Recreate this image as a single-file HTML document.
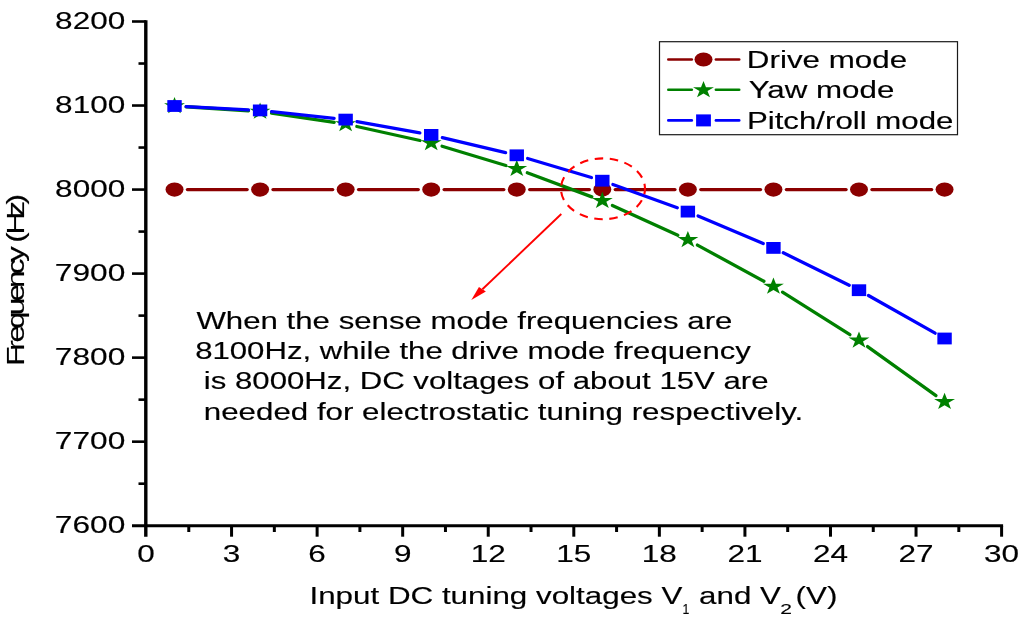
<!DOCTYPE html>
<html lang="en"><head><meta charset="utf-8"><title>Frequency vs DC tuning voltage</title>
<style>html,body{margin:0;padding:0;background:#fff;overflow:hidden}svg{display:block;will-change:transform}text{font-family:"Liberation Sans",sans-serif;fill:#000}</style>
</head><body>
<svg width="1024" height="629" viewBox="0 0 1024 629">
<rect width="1024" height="629" fill="#fff"/>
<g stroke="#000" stroke-width="3" fill="none" stroke-linecap="butt">
<line x1="145.8" y1="20.2" x2="145.8" y2="536.7" stroke-width="3.4"/>
<line x1="132.0" y1="525.7" x2="1003.1" y2="525.7"/>
<line x1="138.5" y1="483.68" x2="146.0" y2="483.68" stroke-width="2.6"/>
<line x1="132.0" y1="441.67" x2="146.0" y2="441.67" stroke-width="2.6"/>
<line x1="138.5" y1="399.65" x2="146.0" y2="399.65" stroke-width="2.6"/>
<line x1="132.0" y1="357.63" x2="146.0" y2="357.63" stroke-width="2.6"/>
<line x1="138.5" y1="315.62" x2="146.0" y2="315.62" stroke-width="2.6"/>
<line x1="132.0" y1="273.60" x2="146.0" y2="273.60" stroke-width="2.6"/>
<line x1="138.5" y1="231.58" x2="146.0" y2="231.58" stroke-width="2.6"/>
<line x1="132.0" y1="189.57" x2="146.0" y2="189.57" stroke-width="2.6"/>
<line x1="138.5" y1="147.55" x2="146.0" y2="147.55" stroke-width="2.6"/>
<line x1="132.0" y1="105.53" x2="146.0" y2="105.53" stroke-width="2.6"/>
<line x1="138.5" y1="63.52" x2="146.0" y2="63.52" stroke-width="2.6"/>
<line x1="132.0" y1="21.50" x2="146.0" y2="21.50" stroke-width="2.6"/>
<line x1="188.78" y1="525.7" x2="188.78" y2="532.0"/>
<line x1="231.56" y1="525.7" x2="231.56" y2="536.7"/>
<line x1="274.34" y1="525.7" x2="274.34" y2="532.0"/>
<line x1="317.12" y1="525.7" x2="317.12" y2="536.7"/>
<line x1="359.90" y1="525.7" x2="359.90" y2="532.0"/>
<line x1="402.68" y1="525.7" x2="402.68" y2="536.7"/>
<line x1="445.46" y1="525.7" x2="445.46" y2="532.0"/>
<line x1="488.24" y1="525.7" x2="488.24" y2="536.7"/>
<line x1="531.02" y1="525.7" x2="531.02" y2="532.0"/>
<line x1="573.80" y1="525.7" x2="573.80" y2="536.7"/>
<line x1="616.58" y1="525.7" x2="616.58" y2="532.0"/>
<line x1="659.36" y1="525.7" x2="659.36" y2="536.7"/>
<line x1="702.14" y1="525.7" x2="702.14" y2="532.0"/>
<line x1="744.92" y1="525.7" x2="744.92" y2="536.7"/>
<line x1="787.70" y1="525.7" x2="787.70" y2="532.0"/>
<line x1="830.48" y1="525.7" x2="830.48" y2="536.7"/>
<line x1="873.26" y1="525.7" x2="873.26" y2="532.0"/>
<line x1="916.04" y1="525.7" x2="916.04" y2="536.7"/>
<line x1="958.82" y1="525.7" x2="958.82" y2="532.0"/>
<line x1="1001.60" y1="525.7" x2="1001.60" y2="536.7"/>
</g>
<text x="54.82" y="532.70" font-size="24.6" textLength="70.43" lengthAdjust="spacingAndGlyphs" stroke="#000" stroke-width="0.15">7600</text>
<text x="54.82" y="448.67" font-size="24.6" textLength="70.43" lengthAdjust="spacingAndGlyphs" stroke="#000" stroke-width="0.15">7700</text>
<text x="54.82" y="364.63" font-size="24.6" textLength="70.43" lengthAdjust="spacingAndGlyphs" stroke="#000" stroke-width="0.15">7800</text>
<text x="54.82" y="280.60" font-size="24.6" textLength="70.43" lengthAdjust="spacingAndGlyphs" stroke="#000" stroke-width="0.15">7900</text>
<text x="55.14" y="196.57" font-size="24.6" textLength="70.10" lengthAdjust="spacingAndGlyphs" stroke="#000" stroke-width="0.15">8000</text>
<text x="55.14" y="112.53" font-size="24.6" textLength="70.10" lengthAdjust="spacingAndGlyphs" stroke="#000" stroke-width="0.15">8100</text>
<text x="55.14" y="28.50" font-size="24.6" textLength="70.10" lengthAdjust="spacingAndGlyphs" stroke="#000" stroke-width="0.15">8200</text>
<text x="137.24" y="561.90" font-size="24.6" textLength="17.52" lengthAdjust="spacingAndGlyphs" stroke="#000" stroke-width="0.15">0</text>
<text x="222.80" y="561.90" font-size="24.6" textLength="17.52" lengthAdjust="spacingAndGlyphs" stroke="#000" stroke-width="0.15">3</text>
<text x="308.36" y="561.90" font-size="24.6" textLength="17.52" lengthAdjust="spacingAndGlyphs" stroke="#000" stroke-width="0.15">6</text>
<text x="393.92" y="561.90" font-size="24.6" textLength="17.52" lengthAdjust="spacingAndGlyphs" stroke="#000" stroke-width="0.15">9</text>
<text x="470.72" y="561.90" font-size="24.6" textLength="35.05" lengthAdjust="spacingAndGlyphs" stroke="#000" stroke-width="0.15">12</text>
<text x="556.28" y="561.90" font-size="24.6" textLength="35.05" lengthAdjust="spacingAndGlyphs" stroke="#000" stroke-width="0.15">15</text>
<text x="641.84" y="561.90" font-size="24.6" textLength="35.05" lengthAdjust="spacingAndGlyphs" stroke="#000" stroke-width="0.15">18</text>
<text x="727.40" y="561.90" font-size="24.6" textLength="35.05" lengthAdjust="spacingAndGlyphs" stroke="#000" stroke-width="0.15">21</text>
<text x="812.96" y="561.90" font-size="24.6" textLength="35.05" lengthAdjust="spacingAndGlyphs" stroke="#000" stroke-width="0.15">24</text>
<text x="898.52" y="561.90" font-size="24.6" textLength="35.05" lengthAdjust="spacingAndGlyphs" stroke="#000" stroke-width="0.15">27</text>
<text x="984.08" y="561.90" font-size="24.6" textLength="35.05" lengthAdjust="spacingAndGlyphs" stroke="#000" stroke-width="0.15">30</text>
<text x="309.48" y="604.20" font-size="24.6" textLength="372.93" lengthAdjust="spacingAndGlyphs" stroke="#000" stroke-width="0.15">Input DC tuning voltages V</text>
<text x="682.54" y="613.80" font-size="14.6" textLength="6.83" lengthAdjust="spacingAndGlyphs" stroke="#000" stroke-width="0.15">1</text>
<text x="699.05" y="604.20" font-size="24.6" textLength="81.86" lengthAdjust="spacingAndGlyphs" stroke="#000" stroke-width="0.15">and V</text>
<text x="780.25" y="613.80" font-size="14.6" textLength="11.73" lengthAdjust="spacingAndGlyphs" stroke="#000" stroke-width="0.15">2</text>
<text x="795.52" y="604.20" font-size="24.6" textLength="41.85" lengthAdjust="spacingAndGlyphs" stroke="#000" stroke-width="0.15">(V)</text>
<text transform="translate(23.9,365.8) rotate(-90) scale(1.28,1)" font-size="24.6" x="0.00 11.74 18.14 28.83 39.51 50.20 60.88 71.57 81.18 90.79 96.13 102.53 116.41 126.02" y="0" stroke="#000" stroke-width="0.15">Frequency (Hz)</text>
<g stroke="#8b0000" stroke-width="3.3" stroke-linecap="round" fill="none">
<line x1="187.45" y1="189.60" x2="247.15" y2="189.60"/>
<line x1="273.01" y1="189.60" x2="332.71" y2="189.60"/>
<line x1="358.57" y1="189.60" x2="418.27" y2="189.60"/>
<line x1="444.13" y1="189.60" x2="503.83" y2="189.60"/>
<line x1="529.69" y1="189.60" x2="589.39" y2="189.60"/>
<line x1="615.25" y1="189.60" x2="674.95" y2="189.60"/>
<line x1="700.81" y1="189.60" x2="760.51" y2="189.60"/>
<line x1="786.37" y1="189.60" x2="846.07" y2="189.60"/>
<line x1="871.93" y1="189.60" x2="931.63" y2="189.60"/>
</g>
<g fill="#8b0000">
<ellipse cx="174.52" cy="189.60" rx="9" ry="7.1"/>
<ellipse cx="260.08" cy="189.60" rx="9" ry="7.1"/>
<ellipse cx="345.64" cy="189.60" rx="9" ry="7.1"/>
<ellipse cx="431.20" cy="189.60" rx="9" ry="7.1"/>
<ellipse cx="516.76" cy="189.60" rx="9" ry="7.1"/>
<ellipse cx="602.32" cy="189.60" rx="9" ry="7.1"/>
<ellipse cx="687.88" cy="189.60" rx="9" ry="7.1"/>
<ellipse cx="773.44" cy="189.60" rx="9" ry="7.1"/>
<ellipse cx="859.00" cy="189.60" rx="9" ry="7.1"/>
<ellipse cx="944.56" cy="189.60" rx="9" ry="7.1"/>
</g>
<g stroke="#008000" stroke-width="3.3" stroke-linecap="round" fill="none">
<line x1="186.13" y1="106.75" x2="248.47" y2="110.75"/>
<line x1="271.53" y1="113.17" x2="334.19" y2="122.33"/>
<line x1="356.84" y1="126.49" x2="420.00" y2="140.51"/>
<line x1="442.07" y1="146.28" x2="505.89" y2="165.52"/>
<line x1="527.27" y1="172.73" x2="591.81" y2="196.87"/>
<line x1="612.37" y1="205.39" x2="677.83" y2="235.31"/>
<line x1="697.44" y1="245.10" x2="763.88" y2="281.30"/>
<line x1="782.51" y1="292.21" x2="849.93" y2="334.69"/>
<line x1="867.58" y1="346.56" x2="935.98" y2="395.64"/>
</g>
<g fill="#008000">
<polygon points="174.52,97.00 177.01,103.20 184.98,103.22 178.55,107.07 180.99,113.28 174.52,109.47 168.05,113.28 170.49,107.07 164.06,103.22 172.03,103.20"/>
<polygon points="260.08,102.50 262.57,108.70 270.54,108.72 264.11,112.57 266.55,118.78 260.08,114.97 253.61,118.78 256.05,112.57 249.62,108.72 257.59,108.70"/>
<polygon points="345.64,115.00 348.13,121.20 356.10,121.22 349.67,125.07 352.11,131.28 345.64,127.47 339.17,131.28 341.61,125.07 335.18,121.22 343.15,121.20"/>
<polygon points="431.20,134.00 433.69,140.20 441.66,140.22 435.23,144.07 437.67,150.28 431.20,146.47 424.73,150.28 427.17,144.07 420.74,140.22 428.71,140.20"/>
<polygon points="516.76,159.80 519.25,166.00 527.22,166.02 520.79,169.87 523.23,176.08 516.76,172.27 510.29,176.08 512.73,169.87 506.30,166.02 514.27,166.00"/>
<polygon points="602.32,191.80 604.81,198.00 612.78,198.02 606.35,201.87 608.79,208.08 602.32,204.27 595.85,208.08 598.29,201.87 591.86,198.02 599.83,198.00"/>
<polygon points="687.88,230.90 690.37,237.10 698.34,237.12 691.91,240.97 694.35,247.18 687.88,243.37 681.41,247.18 683.85,240.97 677.42,237.12 685.39,237.10"/>
<polygon points="773.44,277.50 775.93,283.70 783.90,283.72 777.47,287.57 779.91,293.78 773.44,289.96 766.97,293.78 769.41,287.57 762.98,283.72 770.95,283.70"/>
<polygon points="859.00,331.40 861.49,337.60 869.46,337.62 863.03,341.47 865.47,347.68 859.00,343.86 852.53,347.68 854.97,341.47 848.54,337.62 856.51,337.60"/>
<polygon points="944.56,392.80 947.05,399.00 955.02,399.02 948.59,402.87 951.03,409.08 944.56,405.26 938.09,409.08 940.53,402.87 934.10,399.02 942.07,399.00"/>
</g>
<g stroke="#0000ff" stroke-width="3.3" stroke-linecap="round" fill="none">
<line x1="186.14" y1="106.60" x2="248.46" y2="109.80"/>
<line x1="271.62" y1="111.64" x2="334.10" y2="118.36"/>
<line x1="356.99" y1="121.63" x2="419.85" y2="132.87"/>
<line x1="442.34" y1="137.56" x2="505.62" y2="152.64"/>
<line x1="527.65" y1="158.53" x2="591.43" y2="177.47"/>
<line x1="612.89" y1="184.52" x2="677.31" y2="207.78"/>
<line x1="698.12" y1="215.94" x2="763.20" y2="243.56"/>
<line x1="783.28" y1="252.77" x2="849.16" y2="285.33"/>
<line x1="868.44" y1="295.53" x2="935.12" y2="333.17"/>
</g>
<g fill="#0000ff">
<rect x="167.32" y="100.10" width="14.4" height="11.8"/>
<rect x="252.88" y="104.50" width="14.4" height="11.8"/>
<rect x="338.44" y="113.70" width="14.4" height="11.8"/>
<rect x="424.00" y="129.00" width="14.4" height="11.8"/>
<rect x="509.56" y="149.40" width="14.4" height="11.8"/>
<rect x="595.12" y="174.80" width="14.4" height="11.8"/>
<rect x="680.68" y="205.70" width="14.4" height="11.8"/>
<rect x="766.24" y="242.00" width="14.4" height="11.8"/>
<rect x="851.80" y="284.30" width="14.4" height="11.8"/>
<rect x="937.36" y="332.60" width="14.4" height="11.8"/>
</g>
<ellipse cx="603" cy="188.8" rx="42" ry="30.4" fill="none" stroke="#ff0000" stroke-width="2.1" stroke-dasharray="8.5 6.6" stroke-dashoffset="3"/>
<line x1="561.3" y1="214.0" x2="482.41" y2="289.30" stroke="#ff0000" stroke-width="1.9"/>
<polygon points="471.3,299.9 485.87,291.52 478.94,287.08" fill="#ff0000"/>
<text x="196.40" y="328.80" font-size="24.6" textLength="536.03" lengthAdjust="spacingAndGlyphs" stroke="#000" stroke-width="0.15">When the sense mode frequencies are</text>
<text x="195.15" y="359.20" font-size="24.6" textLength="555.75" lengthAdjust="spacingAndGlyphs" stroke="#000" stroke-width="0.15">8100Hz, while the drive mode frequency</text>
<text x="203.83" y="389.40" font-size="24.6" textLength="564.70" lengthAdjust="spacingAndGlyphs" stroke="#000" stroke-width="0.15">is 8000Hz, DC voltages of about 15V are</text>
<text x="203.82" y="419.80" font-size="24.6" textLength="599.43" lengthAdjust="spacingAndGlyphs" stroke="#000" stroke-width="0.15">needed for electrostatic tuning respectively.</text>
<rect x="659.5" y="41.7" width="298" height="93" fill="#fff" stroke="#1a1a1a" stroke-width="1.2"/>
<g stroke="#8b0000" stroke-width="2.6" stroke-linecap="round"><line x1="668.3" y1="59.5" x2="691.8" y2="59.5"/><line x1="715.9" y1="59.5" x2="739.2" y2="59.5"/></g>
<g stroke="#008000" stroke-width="2.6" stroke-linecap="round"><line x1="668.3" y1="89.7" x2="691.8" y2="89.7"/><line x1="715.9" y1="89.7" x2="739.2" y2="89.7"/></g>
<g stroke="#0000ff" stroke-width="2.6" stroke-linecap="round"><line x1="668.3" y1="120.4" x2="691.8" y2="120.4"/><line x1="715.9" y1="120.4" x2="739.2" y2="120.4"/></g>
<ellipse cx="703.5" cy="59.5" rx="9" ry="7.1" fill="#8b0000"/>
<g fill="#008000"><polygon points="703.50,81.00 705.99,87.20 713.96,87.22 707.53,91.07 709.97,97.28 703.50,93.47 697.03,97.28 699.47,91.07 693.04,87.22 701.01,87.20"/></g>
<rect x="696.1" y="114.4" width="14.8" height="12" fill="#0000ff"/>
<text x="746.89" y="67.60" font-size="24.6" textLength="160.24" lengthAdjust="spacingAndGlyphs" stroke="#000" stroke-width="0.15">Drive mode</text>
<text x="748.77" y="98.20" font-size="24.6" textLength="145.56" lengthAdjust="spacingAndGlyphs" stroke="#000" stroke-width="0.15">Yaw mode</text>
<text x="746.90" y="128.50" font-size="24.6" textLength="206.53" lengthAdjust="spacingAndGlyphs" stroke="#000" stroke-width="0.15">Pitch/roll mode</text>
</svg></body></html>
